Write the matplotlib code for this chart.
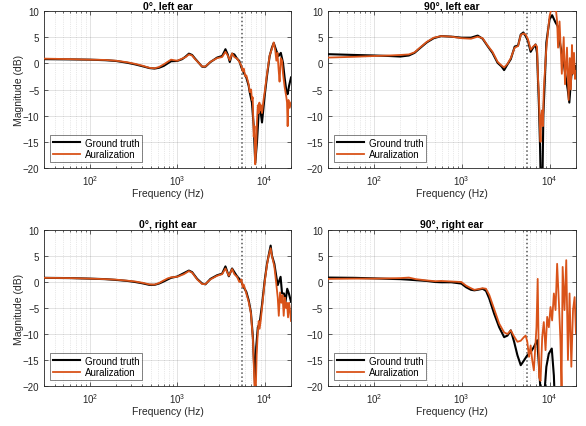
import numpy as np
import matplotlib
matplotlib.use("Agg")
from matplotlib import pyplot as plt
from matplotlib.ticker import LogLocator, NullFormatter

plt.rcParams['font.family'] = ['Liberation Sans', 'DejaVu Sans']
plt.rcParams['mathtext.fontset'] = 'custom'
plt.rcParams['mathtext.rm'] = 'Liberation Sans'

# ---- data (frequency in Hz, magnitude in dB) ----
# 0 deg, left ear
f_0L_gt = [30, 60, 100, 150, 200, 270, 330, 400, 480, 550, 620, 700, 780, 850, 1000, 1140, 1250, 1360,
           1480, 1600, 1690, 1930, 2100, 2400, 2860, 3260, 3450, 3560, 3780, 3990, 4240, 4500, 4830, 5130,
           5420, 5760, 6170, 6560, 6760, 7150, 7490, 7800, 8170, 8540, 8920, 9320, 10000, 10630, 11400,
           12100, 12700, 13600, 14400, 15300, 16200, 16900, 17700, 18300, 19000, 20000]
m_0L_gt = [0.8, 0.75, 0.7, 0.6, 0.45, 0.1, -0.2, -0.55, -0.9, -1.0, -0.85, -0.5, 0.0, 0.4, 0.45, 0.8, 1.3, 1.85,
           1.6, 0.9, 0.45, -0.65, -0.65, 0.25, 1.1, 1.4, 2.2, 2.7, 1.7, 0.25, 1.85, 1.7, 0.9, 0.45,
           -0.8, -1.8, -2.7, -4.3, -5.6, -7.5, -12.0, -19.0, -15.0, -9.4, -8.8, -11.3, -6.2, -2.4, 1.4,
           3.0, 3.9, 2.4, 1.4, 2.0, 0.1, -2.7, -5.3, -5.9, -4.3, -2.7]
f_0L_au = [30, 60, 100, 150, 200, 270, 330, 400, 480, 550, 620, 700, 780, 850, 1000, 1140, 1250, 1360,
           1480, 1600, 1690, 1930, 2100, 2400, 2860, 3260, 3560, 3780, 3990, 4240, 4500, 4830, 5130, 5420,
           5600, 5760, 6000, 6170, 6560, 6760, 7000, 7150, 7300, 7490, 7650, 7800, 8000, 8170, 8350, 8540,
           8700, 8920, 9100, 9320, 9700, 10000, 10630, 11400, 12100, 12700, 13200, 13600, 14000, 14400,
           14800, 15300, 15800, 16200, 16900, 17700, 18000, 18300, 18700, 19300, 20000]
m_0L_au = [0.9, 0.8, 0.7, 0.65, 0.5, 0.2, -0.1, -0.45, -0.85, -0.95, -0.7, -0.2, 0.3, 0.7, 0.5, 0.9, 1.2, 1.7,
           1.5, 0.8, 0.4, -0.6, -0.6, 0.3, 1.0, 1.2, 2.2, 1.5, 0.6, 1.9, 1.2, 0.9, 0.3, -0.5,
           -1.5, -1.0, -2.5, -2.3, -4.0, -5.5, -5.0, -7.0, -6.5, -14.0, -12.0, -19.3, -16.0, -11.0, -8.0, -9.5,
           -7.5, -9.0, -8.0, -9.5, -7.0, -5.5, -2.0, 1.5, 2.8, 4.0, 2.5, 0.5, 2.0, -1.0,
           -3.5, 1.0, 0.5, -2.0, -4.5, -6.5, -7.5, -12.0, -7.0, -8.5, -7.5]

# 90 deg, left ear
f_90L_gt = [30, 60, 100, 150, 200, 250, 290, 340, 400, 480, 583, 760, 1000, 1275, 1520, 1730, 1970, 2240,
            2560, 2840, 3040, 3320, 3620, 4010, 4380, 4700, 5030, 5350, 5680, 6090, 6510, 6920, 7200, 7570,
            7800, 8000, 8250, 8500, 9200, 10000, 10700, 11700, 12400, 13300, 14300, 15200, 16100, 16800,
            17700, 18900, 19700, 20000]
m_90L_gt = [1.75, 1.6, 1.5, 1.4, 1.3, 1.5, 2.0, 3.0, 4.0, 4.8, 5.2, 5.1, 4.9, 4.9, 5.3, 4.7, 3.3, 2.0,
            0.1, -0.6, -1.3, -0.2, 0.8, 3.2, 3.4, 5.5, 5.9, 5.2, 4.3, 2.2, 3.0, 3.6, 2.0, -8.0,
            -16.0, -26.0, -26.0, -10.0, 4.0, 8.4, 9.2, 7.8, 7.1, 3.3, 0.8, -2.4, -5.0, -7.5,
            -2.4, -1.1, -2.4, -0.5]
f_90L_au = [30, 60, 100, 150, 200, 250, 290, 340, 400, 480, 583, 760, 1000, 1275, 1520, 1730, 1970, 2240,
            2560, 2840, 3040, 3320, 3620, 4010, 4380, 4700, 5030, 5350, 5680, 6090, 6510, 6920, 7200, 7400,
            7560, 7750, 7900, 8050, 8200, 8400, 8600, 9200, 10000, 10700, 11200, 11700, 12200, 12500, 13000,
            13800, 14500, 15000, 15800, 16500, 17000, 17500, 18000, 18500, 19000, 19500, 20000]
m_90L_au = [1.1, 1.25, 1.4, 1.5, 1.6, 1.7, 2.1, 3.1, 4.1, 4.9, 5.2, 5.1, 4.8, 4.7, 5.1, 4.8, 3.4, 2.2,
            0.3, -0.4, -0.8, -0.1, 1.0, 3.0, 3.3, 5.4, 5.7, 5.5, 4.6, 2.6, 3.2, 3.6, 3.2, -3.0,
            -5.9, -12.0, -15.0, -10.0, -9.0, -12.0, -5.0, 3.0, 9.0, 11.0, 10.0, 11.0, 8.0, 3.0, 8.0,
            -2.0, 5.0, -4.0, 3.0, -7.0, 1.0, -5.0, 3.5, -2.0, 2.0, -3.0, -1.5]

# 0 deg, right ear
f_0R_gt = [30, 60, 100, 150, 200, 270, 330, 400, 480, 550, 620, 700, 780, 850, 1000, 1190, 1360, 1480,
           1690, 1930, 2100, 2400, 2860, 3260, 3560, 3890, 4240, 4500, 4830, 5130, 5420, 5760, 6170, 6560,
           6960, 7330, 7580, 7750, 8000, 8350, 8750, 9320, 10000, 10630, 11100, 11700, 12100, 12900,
           13600, 14100, 15200, 15800, 16600, 17300, 18100, 18900, 20000]
m_0R_gt = [0.8, 0.75, 0.65, 0.55, 0.4, 0.2, 0.0, -0.25, -0.55, -0.55, -0.3, 0.1, 0.5, 0.8, 1.05, 1.7, 2.2, 1.9,
           0.6, -0.3, -0.45, 0.6, 1.3, 1.6, 3.0, 1.1, 2.6, 1.9, 1.1, 0.6, 0.0, -1.0, -1.9, -3.5,
           -5.8, -10.6, -16.3, -19.5, -12.5, -8.7, -8.0, -4.4, 0.3, 3.5, 5.1, 7.0, 5.1, 3.5,
           1.0, -0.6, 1.0, -2.2, -2.2, -3.8, -1.3, -2.2, -3.8]
f_0R_au = [30, 60, 100, 150, 200, 270, 330, 400, 480, 550, 620, 700, 780, 850, 1000, 1190, 1360, 1480,
           1690, 1930, 2100, 2400, 2860, 3260, 3560, 3890, 4240, 4500, 4830, 5130, 5420, 5600, 5760, 6170,
           6560, 6960, 7330, 7580, 7700, 7900, 8100, 8350, 8550, 8750, 9000, 9320, 10000, 10630, 11100,
           11700, 12100, 12900, 13600, 14100, 14500, 15000, 15500, 16000, 16500, 17000, 17500, 18000,
           18500, 19000, 19500, 20000]
m_0R_au = [0.8, 0.75, 0.65, 0.55, 0.45, 0.25, 0.1, -0.15, -0.45, -0.5, -0.2, 0.3, 0.7, 0.9, 1.0, 1.5, 2.1, 1.8,
           0.5, -0.4, -0.4, 0.5, 1.2, 1.5, 2.6, 1.2, 2.5, 1.5, 1.0, 0.0, 0.5, -1.0, -0.5, -2.2,
           -3.8, -6.0, -11.0, -18.0, -22.0, -21.0, -14.0, -9.5, -7.5, -9.0, -7.5, -5.0, 0.0, 3.3, 5.0,
           6.5, 5.0, 3.0, -0.5, -3.0, -6.5, -2.0, -4.0, -2.5, -6.5, -3.0, -5.0, -4.0,
           -6.8, -4.0, -5.5, -7.5]

# 90 deg, right ear
f_90R_gt = [30, 60, 100, 150, 200, 250, 300, 400, 500, 583, 760, 990, 1120, 1275, 1390, 1520, 1730, 1890,
            2060, 2340, 2670, 3040, 3320, 3620, 3950, 4310, 4700, 5110, 5580, 6090, 6630, 7240, 7500, 7900,
            8600, 9200, 9800, 10600, 11200, 11600]
m_90R_gt = [0.85, 0.8, 0.7, 0.6, 0.55, 0.45, 0.35, 0.2, 0.0, -0.05, -0.05, -0.3, -1.0, -1.5, -1.6, -1.5, -1.3, -1.7,
            -3.2, -6.1, -8.7, -10.6, -10.3, -9.3, -11.5, -14.1, -16.0, -15.1, -14.1, -13.5, -12.5, -11.2, -15.0, -21.0,
            -23.0, -16.3, -13.8, -12.8, -18.0, -25.0]
f_90R_au = [30, 60, 100, 150, 200, 250, 300, 400, 500, 583, 760, 990, 1120, 1275, 1390, 1520, 1730, 1890,
            2060, 2340, 2670, 3040, 3320, 3620, 3950, 4310, 4700, 5110, 5350, 5580, 5840, 6090, 6360, 6630,
            6810, 7100, 7330, 7600, 7900, 8250, 8600, 9000, 9400, 9820, 10260, 10700, 11200, 11700, 12200,
            12800, 13300, 13700, 14100, 14800, 15500, 16200, 16900, 17700, 18500, 19300, 20000]
m_90R_au = [0.6, 0.65, 0.65, 0.7, 0.75, 0.85, 0.55, 0.3, 0.15, 0.2, 0.1, 0.0, -0.7, -1.2, -1.5, -1.4, -1.2, -1.3,
            -2.5, -5.2, -8.0, -9.7, -10.0, -9.3, -10.5, -11.5, -11.3, -10.6, -10.3, -11.5, -14.4, -12.2, -15.1, -17.0,
            -13.8, -8.7, 0.6, -18.3, -19.0, -10.6, -7.7, -13.1, -6.7, -8.7, -4.8, -7.4, -2.2, -5.4, 3.5,
            -4.2, -11.2, -20.2, 2.9, -5.4, 4.2, -15.0, -2.2, -16.3, -5.4, -2.9, -9.9]

titles = ['0°, left ear', '90°, left ear', '0°, right ear', '90°, right ear']
f_cutoff = 5500
y_ticks = [-20, -15, -10, -5, 0, 5, 10]

black = '#000000'
orange = '#D95319'
axcol = '#262626'

fig = plt.figure(figsize=(5.86, 4.27), dpi=100)

positions = [[0.0751, 0.6042, 0.4215, 0.3677],
             [0.5597, 0.6042, 0.4232, 0.3677],
             [0.0751, 0.0937, 0.4215, 0.3653],
             [0.5597, 0.0937, 0.4232, 0.3653]]
panels = [(f_0L_gt, m_0L_gt, f_0L_au, m_0L_au),
          (f_90L_gt, m_90L_gt, f_90L_au, m_90L_au),
          (f_0R_gt, m_0R_gt, f_0R_au, m_0R_au),
          (f_90R_gt, m_90R_gt, f_90R_au, m_90R_au)]

for k, (pos, (fg, mg, fa, ma)) in enumerate(zip(positions, panels)):
    ax = fig.add_axes(pos)
    ax.plot(fg, mg, color=black, lw=1.5, label='Ground truth', zorder=3)
    ax.plot(fa, ma, color=orange, lw=1.3, label='Auralization', zorder=4)
    ax.axvline(f_cutoff, color='#555555', ls=':', lw=1.1, zorder=2)

    ax.set_xscale('log')
    ax.set_xlim(30, 20000)
    ax.set_ylim(-20, 10)
    ax.set_yticks(y_ticks)
    ax.xaxis.set_minor_locator(LogLocator(base=10, subs=np.arange(2, 10), numticks=20))
    ax.xaxis.set_minor_formatter(NullFormatter())

    ax.grid(True, which='major', color=axcol, alpha=0.15, lw=0.6)
    ax.grid(True, which='minor', axis='x', color=axcol, alpha=0.2, lw=0.5, ls=':')
    ax.set_axisbelow(True)

    for sp in ax.spines.values():
        sp.set_color(axcol)
        sp.set_linewidth(0.6)
    ax.tick_params(which='both', direction='in', top=True, right=True, colors=axcol,
                   labelsize=7, width=0.5)
    ax.tick_params(which='major', length=3)
    ax.tick_params(which='minor', length=1.5)

    ax.set_title(titles[k], fontsize=7.5, fontweight='bold', pad=2)
    ax.set_xlabel('Frequency (Hz)', fontsize=7.5, labelpad=1, color=axcol)
    if k % 2 == 0:
        ax.set_ylabel('Magnitude (dB)', fontsize=7.5, labelpad=-1, color=axcol)

    leg = ax.legend(loc='lower left', fontsize=7, frameon=True, fancybox=False,
                    handlelength=2.8, borderaxespad=0.6, borderpad=0.3, labelspacing=0.15,
                    handletextpad=0.5)
    leg.get_frame().set_edgecolor(axcol)
    leg.get_frame().set_linewidth(0.5)

fig.savefig('out.png', dpi=100)
